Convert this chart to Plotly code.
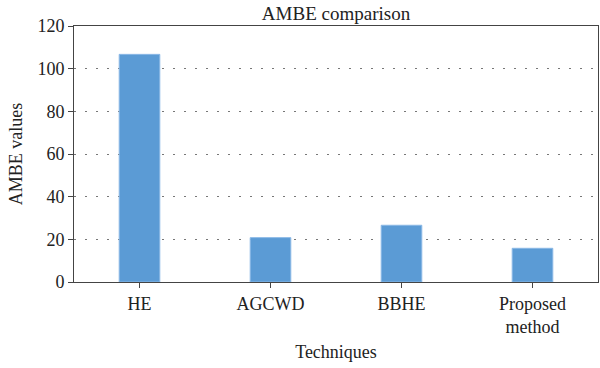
import plotly.graph_objects as go

categories = ["HE", "AGCWD", "BBHE", "Proposed<br>method"]
values = [106.7, 20.8, 26.6, 15.8]
y_ticks = [0, 20, 40, 60, 80, 100, 120]

font_family = "Liberation Serif, DejaVu Serif, serif"

fig = go.Figure()
fig.add_trace(go.Bar(
    x=categories, y=values, width=0.31,
    marker=dict(color="#5b9bd5", line=dict(color="#8ab8e6", width=1)),
    hoverinfo="skip",
))
fig.update_layout(
    width=600, height=368,
    margin=dict(l=74, r=2, t=26, b=86),
    paper_bgcolor="white", plot_bgcolor="white",
    showlegend=False,
    font=dict(family=font_family, size=18, color="#222"),
    title=dict(text="AMBE comparison", x=0.56, xanchor="center", y=0.965, yanchor="middle",
               font=dict(size=19, family=font_family, color="#222")),
    xaxis=dict(
        range=[-0.5, 3.5], showline=True, linecolor="#444", linewidth=1, mirror=True,
        ticks="outside", ticklen=5, tickcolor="#444", showgrid=False, automargin=False,
        tickfont=dict(size=18),
        title=dict(text="Techniques", font=dict(size=18), standoff=9),
    ),
    yaxis=dict(
        range=[0, 120], tickvals=y_ticks, showline=True, linecolor="#444", linewidth=1, mirror=True,
        ticks="outside", ticklen=5, tickcolor="#444", automargin=False,
        showgrid=True, gridcolor="#777", griddash="2px,9px", gridwidth=1, zeroline=False,
        tickfont=dict(size=18),
        title=dict(text="AMBE values", font=dict(size=18), standoff=10),
    ),
)
fig.write_html("out.html", config={"displayModeBar": False},
               post_script="document.body.style.margin='0';")
